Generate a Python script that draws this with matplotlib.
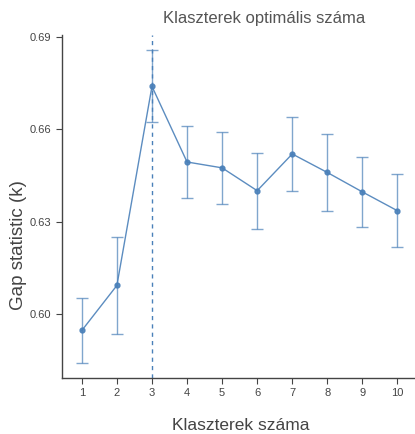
import matplotlib
matplotlib.use("Agg")
import matplotlib.pyplot as plt

k = [1, 2, 3, 4, 5, 6, 7, 8, 9, 10]
gap = [0.5948, 0.6094, 0.6739, 0.6494, 0.6475, 0.6401, 0.6520, 0.6460, 0.6397, 0.6336]
se = [0.0104, 0.0158, 0.0117, 0.0117, 0.0116, 0.0123, 0.0120, 0.0124, 0.0114, 0.0118]
k_opt = 3
yticks = [0.60, 0.63, 0.66, 0.69]

col = "#4a80b9"
plt.rcParams["font.family"] = ["Liberation Sans", "DejaVu Sans"]

W, H = 415, 434
fig = plt.figure(figsize=(W / 100, H / 100), dpi=100)
ax = fig.add_axes([0.149, 0.129, 0.851, 0.790])

ax.errorbar(k, gap, yerr=se, fmt="none", ecolor=col, elinewidth=1.0, capsize=4,
            capthick=1.0, alpha=0.7)
ax.plot(k, gap, "-o", color=col, lw=1.0, ms=3.5, alpha=0.9)
ax.axvline(k_opt, color=col, lw=1.0, ls=(0, (3, 3)))

ax.set_xlim(0.43, 10.5)
ax.set_ylim(0.5794, 0.6905)
ax.set_xticks(k)
ax.set_yticks(yticks)
ax.set_yticklabels([f"{v:.2f}" for v in yticks])
ax.tick_params(colors="#444444", labelsize=8, length=4, width=0.8, direction="out")
for s in ("top", "right"):
    ax.spines[s].set_visible(False)
for s in ("left", "bottom"):
    ax.spines[s].set_color("#444444")
    ax.spines[s].set_linewidth(1.0)

# axis titles placed by figure pixels to match the reference layout
fig.text(241 / W, 1 - 425 / H, "Klaszterek száma", fontsize=12.5, color="#444444",
         ha="center", va="center")
fig.text(19 / W, 1 - 245 / H, "Gap statistic (k)", fontsize=13.5, color="#444444",
         ha="center", va="center", rotation=90)
fig.text(264 / W, 1 - 18 / H, "Klaszterek optimális száma", fontsize=12, color="#555555",
         ha="center", va="center")

fig.savefig("out.png", dpi=100)
